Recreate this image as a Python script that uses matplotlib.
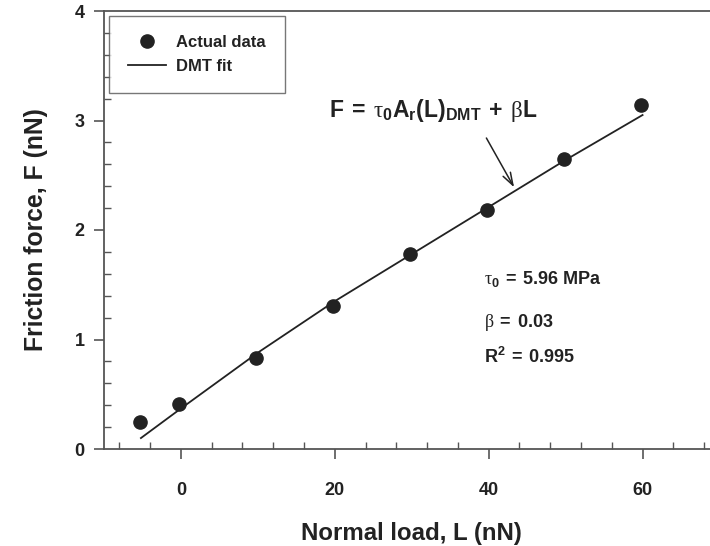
import matplotlib
matplotlib.use('Agg')
import matplotlib.pyplot as plt
from matplotlib.ticker import MultipleLocator

plt.rcParams['font.family'] = ['Liberation Sans', 'DejaVu Sans']
plt.rcParams['font.weight'] = 'bold'
plt.rcParams['mathtext.fontset'] = 'custom'
plt.rcParams['mathtext.rm'] = 'Liberation Serif:weight=normal'
plt.rcParams['mathtext.it'] = 'Liberation Serif:weight=normal'
plt.rcParams['mathtext.bf'] = 'Liberation Sans:bold'
plt.rcParams['mathtext.default'] = 'bf'

# measured friction vs. normal load
load = [-5.3, -0.3, 9.7, 19.7, 29.8, 39.8, 49.8, 59.8]
friction = [0.25, 0.41, 0.83, 1.31, 1.78, 2.18, 2.65, 3.14]

# DMT fit curve
fit_load = [-5.2, 0, 10, 20, 30, 40, 50, 60]
fit_friction = [0.10, 0.37, 0.88, 1.35, 1.78, 2.21, 2.64, 3.05]

ink = '#222222'
axis_col = '#555555'

fig = plt.figure(figsize=(7.1, 5.46), dpi=100)
ax = fig.add_axes([104 / 710, 97 / 546, 615.5 / 710, 438 / 546])

ax.plot(fit_load, fit_friction, color=ink, lw=1.3, label='DMT fit', zorder=2)
ax.plot(load, friction, 'o', color=ink, ms=9.5, label='Actual data', zorder=3)

ax.set_xlim(-10, 70)
ax.set_ylim(0, 4)
ax.xaxis.set_major_locator(MultipleLocator(20))
ax.xaxis.set_minor_locator(MultipleLocator(4))
ax.yaxis.set_major_locator(MultipleLocator(1))
ax.yaxis.set_minor_locator(MultipleLocator(0.2))
ax.tick_params(which='major', direction='out', length=7, width=1.2,
               color=axis_col, labelsize=13, labelcolor=ink)
ax.tick_params(which='minor', direction='in', length=5, width=1.0, color=axis_col)
ax.tick_params(axis='x', which='major', pad=17)
ax.tick_params(axis='y', which='major', pad=7)

ax.spines['right'].set_visible(False)
for s in ['left', 'bottom', 'top']:
    ax.spines[s].set_color(axis_col)
    ax.spines[s].set_linewidth(1.3)

ax.set_xlabel('Normal load, L (nN)', fontsize=17.3, fontweight='bold',
              color=ink, labelpad=16)
ax.set_ylabel('Friction force, F (nN)', fontsize=17.8, fontweight='bold',
              color=ink, labelpad=19)

handles, labels = ax.get_legend_handles_labels()
leg = ax.legend(handles[::-1], labels[::-1], loc='upper left',
                bbox_to_anchor=(0.008, 0.9886), fontsize=12, frameon=True,
                fancybox=False, borderpad=1.15, handlelength=2.3,
                handletextpad=0.6, labelspacing=0.55, borderaxespad=0)
leg.get_frame().set_edgecolor(axis_col)
leg.get_frame().set_linewidth(1.0)
for t in leg.get_texts():
    t.set_color(ink)

ax.text(19.3, 3.035,
        r'$F\;=\;\mathit{\tau}_0A_r(L)_{DMT}\;+\;\mathit{\beta}L$',
        fontsize=16.5, color=ink, ha='left', va='baseline')
ax.annotate('', xy=(43.3, 2.39), xytext=(39.7, 2.84),
            arrowprops=dict(arrowstyle='->,head_length=0.9,head_width=0.3',
                            color=ink, lw=1.1, shrinkA=0, shrinkB=0))

ax.text(39.4, 1.507, r'$\mathit{\tau}_0\;=\;5.96\ MPa$', fontsize=13,
        color=ink, ha='left', va='baseline')
ax.text(39.4, 1.117, r'$\mathit{\beta}\;=\;0.03$', fontsize=13,
        color=ink, ha='left', va='baseline')
ax.text(39.4, 0.783, r'$R^2\;=\;0.995$', fontsize=13,
        color=ink, ha='left', va='baseline')

fig.savefig('out.png', dpi=100)
